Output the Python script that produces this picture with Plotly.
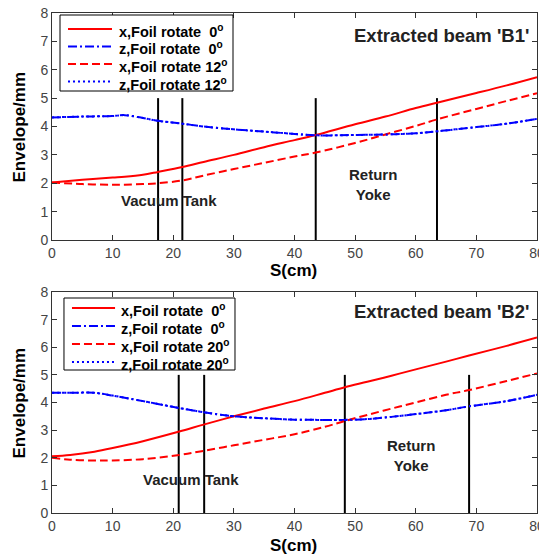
import plotly.graph_objects as go

# S positions (cm) where the curves were sampled
s_b1 = [0, 5, 10, 12, 15, 17.5, 21.5, 25, 30, 35, 40, 43.5, 50, 55, 60, 63.5, 70, 75, 80]
x0_b1 = [2.03, 2.12, 2.2, 2.23, 2.3, 2.4, 2.57, 2.75, 3.0, 3.27, 3.52, 3.7, 4.08, 4.35, 4.65, 4.84, 5.18, 5.45, 5.74]
z0_b1 = [4.32, 4.35, 4.37, 4.4, 4.3, 4.2, 4.1, 4.0, 3.9, 3.82, 3.74, 3.69, 3.7, 3.72, 3.76, 3.83, 3.98, 4.1, 4.27]
x12_b1 = [2.03, 1.97, 1.95, 1.95, 1.97, 2.0, 2.1, 2.27, 2.5, 2.72, 2.94, 3.08, 3.42, 3.72, 4.02, 4.25, 4.62, 4.9, 5.17]
z12_b1 = [4.32, 4.35, 4.37, 4.4, 4.3, 4.2, 4.1, 4.0, 3.9, 3.82, 3.74, 3.69, 3.7, 3.72, 3.76, 3.83, 3.98, 4.1, 4.27]

s_b2 = [0, 3, 7, 10, 15, 21, 25, 30, 35, 40, 45, 48.3, 52, 56, 60, 65, 68.8, 75, 80]
x0_b2 = [2.05, 2.1, 2.22, 2.35, 2.6, 2.95, 3.2, 3.5, 3.78, 4.05, 4.35, 4.55, 4.75, 4.97, 5.2, 5.48, 5.7, 6.05, 6.35]
z0_b2 = [4.35, 4.35, 4.35, 4.25, 4.05, 3.8, 3.65, 3.5, 3.43, 3.38, 3.37, 3.37, 3.4, 3.48, 3.58, 3.72, 3.86, 4.05, 4.28]
x20_b2 = [2.0, 1.93, 1.9, 1.9, 1.95, 2.1, 2.25, 2.45, 2.65, 2.85, 3.12, 3.33, 3.55, 3.78, 4.0, 4.28, 4.45, 4.78, 5.05]
z20_b2 = [4.35, 4.35, 4.35, 4.25, 4.05, 3.8, 3.65, 3.5, 3.43, 3.38, 3.37, 3.37, 3.4, 3.48, 3.58, 3.72, 3.86, 4.05, 4.28]

# boundary markers (vertical lines) and their height
walls_b1 = [17.5, 21.5, 43.5, 63.5]
walls_b2 = [20.9, 25.1, 48.3, 68.8]
wall_top = 5

x_ticks = [0, 10, 20, 30, 40, 50, 60, 70, 80]
y_ticks = [0, 1, 2, 3, 4, 5, 6, 7, 8]

font = "Liberation Sans, Arial, sans-serif"
styles = [("red", "solid"), ("blue", "9px,3px,2px,3px"), ("red", "8px,4px"), ("blue", "2px,3px")]

fig = go.Figure()


def add_panel(row, s, series, labels, walls):
    xax = "x" if row == 1 else "x2"
    yax = "y" if row == 1 else "y2"
    for w in walls:
        fig.add_trace(go.Scatter(x=[w, w], y=[0, wall_top], mode="lines",
                                 line=dict(color="black", width=2),
                                 showlegend=False, hoverinfo="skip",
                                 xaxis=xax, yaxis=yax))
    for vals, name, (color, dash) in zip(series, labels, styles):
        fig.add_trace(go.Scatter(x=s, y=vals, mode="lines", name=name,
                                 line=dict(color=color, width=2, dash=dash, shape="spline"),
                                 showlegend=False, xaxis=xax, yaxis=yax))


labels_b1 = ["x,Foil rotate  0", "z,Foil rotate  0", "x,Foil rotate 12", "z,Foil rotate 12"]
labels_b2 = ["x,Foil rotate  0", "z,Foil rotate  0", "x,Foil rotate 20", "z,Foil rotate 20"]

add_panel(1, s_b1, [x0_b1, z0_b1, x12_b1, z12_b1], labels_b1, walls_b1)
add_panel(2, s_b2, [x0_b2, z0_b2, x20_b2, z20_b2], labels_b2, walls_b2)


# hand-drawn legend boxes (tighter rows than plotly's own legend allows)
def add_legend(box, line_x, text_x, rows, labels):
    fig.add_shape(type="rect", xref="paper", yref="paper",
                  x0=box[0], x1=box[1], y0=box[3], y1=box[2],
                  line=dict(color="black", width=1), fillcolor="white", layer="above")
    for yv, lab, (color, dash) in zip(rows, labels, styles):
        fig.add_shape(type="line", xref="paper", yref="paper",
                      x0=line_x[0], x1=line_x[1], y0=yv + 0.004, y1=yv + 0.004,
                      line=dict(color=color, width=2, dash=dash), layer="above")
        fig.add_annotation(x=text_x, y=yv, xref="paper", yref="paper",
                           text=f"<b>{lab}<sup>o</sup></b>", showarrow=False,
                           xanchor="left", yanchor="middle",
                           font=dict(family=font, size=14.5, color="black"))


add_legend([0.0165, 0.3732, 0.996, 0.844], [0.033, 0.1237], 0.134,
           [0.964, 0.929, 0.894, 0.859], labels_b1)
add_legend([0.0247, 0.3773, 0.43, 0.286], [0.0412, 0.13], 0.138,
           [0.406, 0.370, 0.334, 0.298], labels_b2)

axis_style = dict(showline=True, linecolor="#333", linewidth=1, mirror="ticks",
                  ticks="inside", ticklen=5, tickcolor="#333", showgrid=False,
                  zeroline=False, automargin=False, ticklabeloverflow="allow",
                  tickfont=dict(family=font, size=14, color="#444"))

# the page body adds 8px around the figure, so the figure is 8px smaller
fig.update_layout(
    width=539, height=547,
    margin=dict(l=44, r=10, t=5, b=42),
    paper_bgcolor="white", plot_bgcolor="white",
    font=dict(family=font, color="black"),
    xaxis=dict(domain=[0, 1], range=[0, 80], tickvals=x_ticks, anchor="y", **axis_style),
    yaxis=dict(domain=[0.546, 1], range=[0, 8], tickvals=y_ticks, anchor="x", **axis_style),
    xaxis2=dict(domain=[0, 1], range=[0, 80], tickvals=x_ticks, anchor="y2", **axis_style),
    yaxis2=dict(domain=[0, 0.442], range=[0, 8], tickvals=y_ticks, anchor="x2", **axis_style),
)

notes = [
    ("x", "y", 79, 7.2, "<b>Extracted beam 'B1'</b>", "right", 18.5),
    ("x", "y", 19.3, 1.38, "<b>Vacuum Tank</b>", "center", 15),
    ("x", "y", 53, 1.97, "<b>Return<br>Yoke</b>", "center", 15),
    ("x2", "y2", 79, 7.28, "<b>Extracted beam 'B2'</b>", "right", 18.5),
    ("x2", "y2", 23, 1.2, "<b>Vacuum Tank</b>", "center", 15),
    ("x2", "y2", 59.2, 2.08, "<b>Return<br>Yoke</b>", "center", 15),
]
for xr, yr, xv, yv, txt, anc, size in notes:
    fig.add_annotation(x=xv, y=yv, xref=xr, yref=yr, text=txt, showarrow=False,
                       xanchor=anc, font=dict(family=font, size=size, color="#222"))

# axis titles placed on the paper
titles = [
    (0.497, 0.486, "<b>S(cm)</b>", 0),
    (0.497, -0.064, "<b>S(cm)</b>", 0),
    (-0.066, 0.773, "<b>Envelope/mm</b>", -90),
    (-0.066, 0.221, "<b>Envelope/mm</b>", -90),
]
for xv, yv, txt, ang in titles:
    fig.add_annotation(x=xv, y=yv, xref="paper", yref="paper", text=txt,
                       showarrow=False, textangle=ang, xanchor="center", yanchor="middle",
                       font=dict(family=font, size=17, color="black"))

fig.write_html("out.html")
